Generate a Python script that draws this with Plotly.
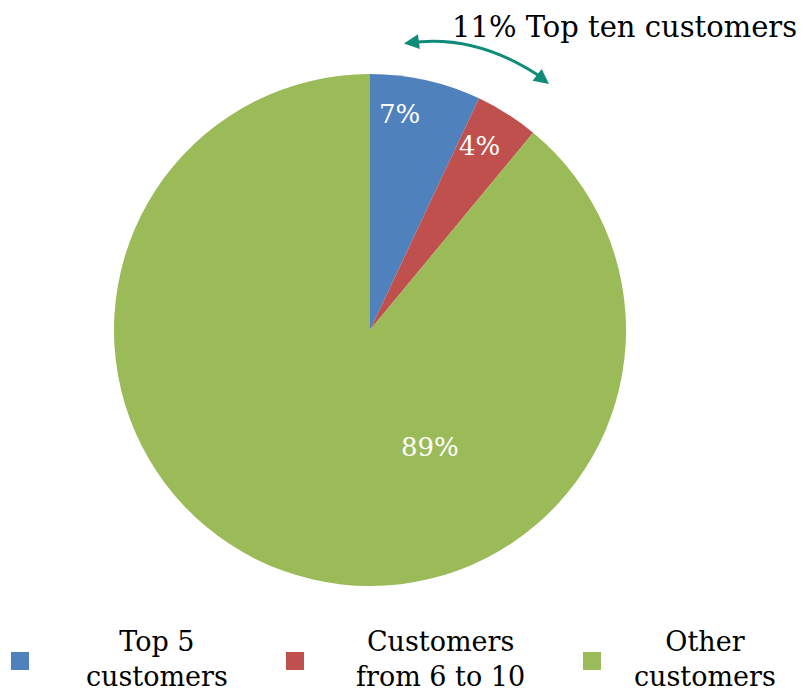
import plotly.graph_objects as go

# Customer concentration shares (percent of revenue)
segments = ["Top 5<br>customers", "Customers<br>from 6 to 10", "Other<br>customers"]
shares = [7, 4, 89]
colors = ["#4F81BD", "#C0504D", "#9BBB59"]

W, H = 805, 695
FONT = "DejaVu Serif"


def px(x):
    return x / W


def py(y):
    return 1 - y / H


fig = go.Figure()
fig.add_trace(go.Pie(
    labels=segments,
    values=shares,
    sort=False,
    direction="clockwise",
    rotation=0,
    marker=dict(colors=colors, line=dict(width=0)),
    textinfo="none",
    domain=dict(x=[px(370 - 256), px(370 + 256)], y=[py(586), py(74)]),
    showlegend=False,
    hoverinfo="label+value",
))

annotations = []
shapes = []

# Percentage labels placed inside each slice
value_pos = [(399, 114), (479, 146), (430, 447)]
for v, (lx, ly) in zip(shares, value_pos):
    annotations.append(dict(
        x=px(lx), y=py(ly), xref="paper", yref="paper",
        xanchor="center", yanchor="middle", showarrow=False,
        text=f"{v}%", font=dict(family=FONT, size=26, color="white"),
    ))

# Bracket arrow spanning the top-ten slices
teal = "#0E8C78"
shapes.append(dict(
    type="path", xref="paper", yref="paper",
    path=f"M {px(409)} {py(43)} Q {px(478)} {py(33)} {px(545)} {py(80)}",
    line=dict(color=teal, width=3),
))
annotations.append(dict(
    x=px(404), y=py(43.5), xref="paper", yref="paper", text="",
    showarrow=True, arrowhead=2, arrowsize=1, arrowwidth=3, arrowcolor=teal,
    ax=16, ay=-2, standoff=0,
))
annotations.append(dict(
    x=px(549), y=py(84), xref="paper", yref="paper", text="",
    showarrow=True, arrowhead=2, arrowsize=1, arrowwidth=3, arrowcolor=teal,
    ax=-13, ay=-10, standoff=0,
))
annotations.append(dict(
    x=px(799), y=py(27), xref="paper", yref="paper",
    xanchor="right", yanchor="middle", showarrow=False,
    text=f"{shares[0] + shares[1]}% Top ten customers",
    font=dict(family=FONT, size=29, color="black"),
))

# Legend: colour swatch followed by a centred two-line label
swatch_x = [20, 295, 592]
label_x = [157, 440, 705]
for name, col, sx, lx in zip(segments, colors, swatch_x, label_x):
    shapes.append(dict(
        type="rect", xref="paper", yref="paper",
        x0=px(sx - 9), x1=px(sx + 9), y0=py(670), y1=py(652),
        fillcolor=col, line=dict(width=0),
    ))
    annotations.append(dict(
        x=px(lx), y=py(659), xref="paper", yref="paper",
        xanchor="center", yanchor="middle", showarrow=False, align="center",
        text=name, font=dict(family=FONT, size=27, color="black"),
    ))

fig.update_layout(
    width=W, height=H,
    margin=dict(l=0, r=0, t=0, b=0),
    paper_bgcolor="white",
    plot_bgcolor="white",
    shapes=shapes,
    annotations=annotations,
)

fig.write_html("out.html")
